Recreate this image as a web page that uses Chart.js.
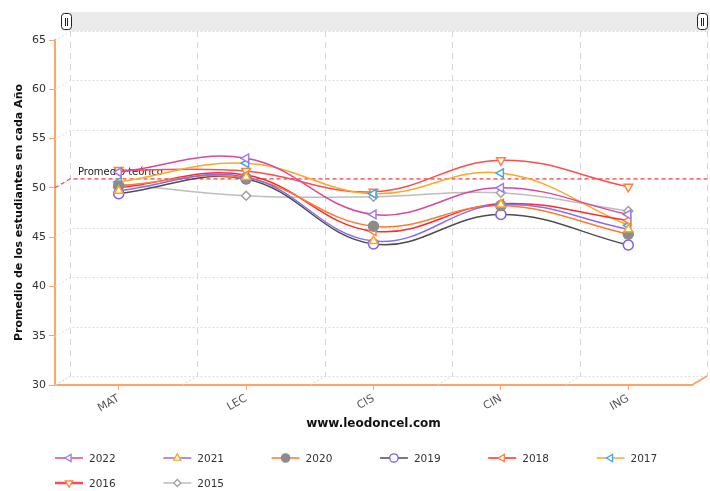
<!DOCTYPE html>
<html lang="es">
<head>
<meta charset="UTF-8">
<title>Promedio por año</title>
<script src="https://cdn.jsdelivr.net/npm/chart.js@4.4.1/dist/chart.umd.min.js"></script>
<style>
  html, body { margin: 0; padding: 0; background: #fff; }
  #wrap { width: 710px; height: 491px; }
</style>
</head>
<body>
<div id="wrap"><canvas id="grafico" width="710" height="491"></canvas></div>

<script>
    // datos
    const categorias = ['MAT', 'LEC', 'CIS', 'CIN', 'ING'];
    const anios = ['2022', '2021', '2020', '2019', '2018', '2017', '2016', '2015'];

    const v2022 = [51.6, 53.0, 47.3, 50.0, 47.3];
    const v2021 = [49.7, 51.1, 44.6, 48.3, 45.8];
    const v2020 = [50.2, 51.0, 46.1, 48.2, 45.3];
    const v2019 = [49.4, 50.9, 44.3, 47.3, 44.2];
    const v2018 = [50.0, 51.3, 45.6, 48.4, 46.7];
    const v2017 = [50.6, 52.5, 49.4, 51.5, 46.2];
    const v2016 = [51.8, 51.7, 49.6, 52.8, 50.1];
    const v2015 = [50.4, 49.2, 49.1, 49.5, 47.65];

    const promedioTeorico = 50;
    const yTicks = [30, 35, 40, 45, 50, 55, 60, 65];

    const valores = [v2022, v2021, v2020, v2019, v2018, v2017, v2016, v2015];

    // estilo de cada serie: color de linea, color del marcador, forma, rotacion, relleno
    const estilos = [
        { linea: '#d9489c', marca: '#9b7bf0', forma: 'triangle', rot: -90, lleno: false },
        { linea: '#8a6cf2', marca: '#ffa41b', forma: 'triangle', rot: 0, lleno: false },
        { linea: '#ff7a2e', marca: '#8c8c8c', forma: 'circle', rot: 0, lleno: true },
        { linea: '#4d4d4d', marca: '#7c5cf2', forma: 'circle', rot: 0, lleno: false },
        { linea: '#ff2a2a', marca: '#ff7f3f', forma: 'triangle', rot: -90, lleno: false },
        { linea: '#ffa726', marca: '#3fa9e0', forma: 'triangle', rot: -90, lleno: false },
        { linea: '#ff4d4d', marca: '#ff7f3f', forma: 'triangle', rot: 180, lleno: false },
        { linea: '#bdbdbd', marca: '#a0a0a0', forma: 'rectRot', rot: 0, lleno: false }
    ];

    const naranja = '#ffa366';
    const DX = 15, DY = -9; // profundidad 3D

    Chart.defaults.font.family = "'DejaVu Sans', Verdana, sans-serif";
    Chart.defaults.font.size = 11;
    Chart.defaults.color = '#444';

    let datasets = [];
    for (let i = 0; i < anios.length; i++) {
        let e = estilos[i];
        datasets.push({
            label: anios[i],
            data: valores[i],
            borderColor: e.linea,
            borderWidth: 1.5,
            tension: 0.4,
            fill: false,
            pointStyle: e.forma,
            pointRotation: e.rot,
            pointRadius: e.forma === 'rectRot' ? 4.5 : 5,
            pointHoverRadius: 5,
            pointBorderColor: e.marca,
            pointBorderWidth: 1.5,
            pointBackgroundColor: e.lleno ? e.marca : '#ffffff'
        });
    }

    function dibujarMarca(ctx, forma, rot, x, y, r) {
        ctx.save();
        ctx.translate(x, y);
        ctx.rotate(rot * Math.PI / 180);
        ctx.beginPath();
        if (forma === 'circle') {
            ctx.arc(0, 0, r, 0, Math.PI * 2);
        } else if (forma === 'triangle') {
            ctx.moveTo(0, -r);
            ctx.lineTo(r * 0.866, r * 0.5);
            ctx.lineTo(-r * 0.866, r * 0.5);
            ctx.closePath();
        } else {
            ctx.moveTo(0, -r);
            ctx.lineTo(r, 0);
            ctx.lineTo(0, r);
            ctx.lineTo(-r, 0);
            ctx.closePath();
        }
        ctx.fill();
        ctx.stroke();
        ctx.restore();
    }

    // fondo 3D: rejilla del plano trasero + linea de promedio
    const fondo3D = {
        id: 'fondo3D',
        beforeDatasetsDraw(chart) {
            const ctx = chart.ctx;
            const x = chart.scales.x, y = chart.scales.y;
            const a = chart.chartArea;
            ctx.save();
            ctx.lineWidth = 1;

            // horizontales punteadas
            ctx.strokeStyle = '#dddddd';
            ctx.setLineDash([2, 2]);
            yTicks.forEach(function (v) {
                let py = Math.round(y.getPixelForValue(v)) + 0.5;
                ctx.beginPath();
                ctx.moveTo(a.left, py);
                ctx.lineTo(a.left + DX, py + DY);
                ctx.lineTo(a.right + DX, py + DY);
                ctx.stroke();
            });

            // verticales discontinuas
            ctx.strokeStyle = '#d6d6d6';
            for (let i = 0; i <= categorias.length; i++) {
                let bx = Math.round(x.getPixelForDecimal(i / categorias.length)) + 0.5;
                ctx.setLineDash([2, 2]);
                ctx.beginPath();
                ctx.moveTo(bx, a.bottom);
                ctx.lineTo(bx + DX, a.bottom + DY);
                ctx.stroke();
                ctx.setLineDash([6, 5]);
                ctx.beginPath();
                ctx.moveTo(bx + DX, a.top + DY);
                ctx.lineTo(bx + DX, a.bottom + DY);
                ctx.stroke();
            }

            // promedio teorico
            let pg = y.getPixelForValue(promedioTeorico);
            ctx.strokeStyle = '#f04848';
            ctx.lineWidth = 1.2;
            ctx.setLineDash([4, 3]);
            ctx.beginPath();
            ctx.moveTo(a.left, pg);
            ctx.lineTo(a.left + DX, pg + DY);
            ctx.lineTo(a.right + DX, pg + DY);
            ctx.stroke();
            ctx.setLineDash([]);
            ctx.fillStyle = '#222';
            ctx.font = "10px 'DejaVu Sans', sans-serif";
            ctx.textBaseline = 'bottom';
            ctx.fillText('Promedio teórico', a.left + 23, pg + DY - 1);
            ctx.restore();
        },
        afterDraw(chart) {
            const ctx = chart.ctx;
            const a = chart.chartArea;
            ctx.save();

            // extremo 3D del eje x
            ctx.strokeStyle = naranja;
            ctx.lineWidth = 2;
            ctx.beginPath();
            ctx.moveTo(a.right, a.bottom);
            ctx.lineTo(a.right + DX, a.bottom + DY);
            ctx.stroke();

            // barra de desplazamiento
            let bx0 = a.left + 8, bx1 = a.right + DX + 3, by0 = 12, by1 = a.top + DY;
            ctx.fillStyle = '#ebebeb';
            ctx.fillRect(bx0, by0, bx1 - bx0, by1 - by0);
            [bx0 + 3, bx1 - 8].forEach(function (hx) {
                ctx.fillStyle = '#ffffff';
                ctx.strokeStyle = '#222';
                ctx.lineWidth = 1;
                ctx.beginPath();
                ctx.roundRect(hx - 4.5, by0 + 1.5, 10, 16, 3);
                ctx.fill();
                ctx.stroke();
                ctx.beginPath();
                ctx.moveTo(hx - 0.5, by0 + 6); ctx.lineTo(hx - 0.5, by0 + 14);
                ctx.moveTo(hx + 1.5, by0 + 6); ctx.lineTo(hx + 1.5, by0 + 14);
                ctx.stroke();
            });

            // leyenda
            ctx.font = "10.5px 'DejaVu Sans', sans-serif";
            ctx.textBaseline = 'middle';
            for (let i = 0; i < anios.length; i++) {
                let e = estilos[i];
                let lx = 55 + (i % 6) * 108.3;
                let ly = 458 + Math.floor(i / 6) * 25;
                ctx.strokeStyle = e.linea;
                ctx.lineWidth = i === 6 ? 2.5 : 1.5;
                ctx.beginPath();
                ctx.moveTo(lx, ly);
                ctx.lineTo(lx + 28, ly);
                ctx.stroke();
                ctx.strokeStyle = e.marca;
                ctx.fillStyle = e.lleno ? e.marca : '#ffffff';
                ctx.lineWidth = 1.3;
                dibujarMarca(ctx, e.forma, e.rot, lx + 14, ly, e.forma === 'rectRot' ? 3.5 : 4.2);
                ctx.fillStyle = '#333';
                ctx.fillText(anios[i], lx + 34, ly + 1);
            }
            ctx.restore();
        }
    };

    new Chart(document.getElementById('grafico'), {
        type: 'line',
        data: { labels: categorias, datasets: datasets },
        plugins: [fondo3D],
        options: {
            responsive: false,
            devicePixelRatio: 1,
            animation: false,
            layout: { padding: { left: 0, top: 40, right: 18, bottom: 56 } },
            plugins: {
                legend: { display: false },
                tooltip: { enabled: false }
            },
            scales: {
                x: {
                    offset: true,
                    grid: { drawOnChartArea: false, color: naranja, tickLength: 5, offset: false },
                    border: { color: naranja, width: 2 },
                    ticks: { color: '#555', minRotation: 30, maxRotation: 30, padding: 2, font: { size: 11 } },
                    title: {
                        display: true,
                        text: 'www.leodoncel.com',
                        color: '#111',
                        font: { size: 12, weight: 'bold' },
                        padding: { top: 4, bottom: 4 }
                    },
                    afterFit: function (scale) { scale.height = 50; }
                },
                y: {
                    min: 30,
                    max: 65,
                    ticks: { stepSize: 5, color: '#333', padding: 3, font: { size: 11 } },
                    grid: { drawOnChartArea: false, color: naranja, tickLength: 6 },
                    border: { color: naranja, width: 2 },
                    title: {
                        display: true,
                        text: 'Promedio de los estudiantes en cada Año',
                        color: '#111',
                        font: { size: 11, weight: 'bold' },
                        padding: { top: 13, bottom: 0 }
                    },
                    afterFit: function (scale) { scale.width = 55; }
                }
            }
        }
    });
</script>
</body>
</html>
